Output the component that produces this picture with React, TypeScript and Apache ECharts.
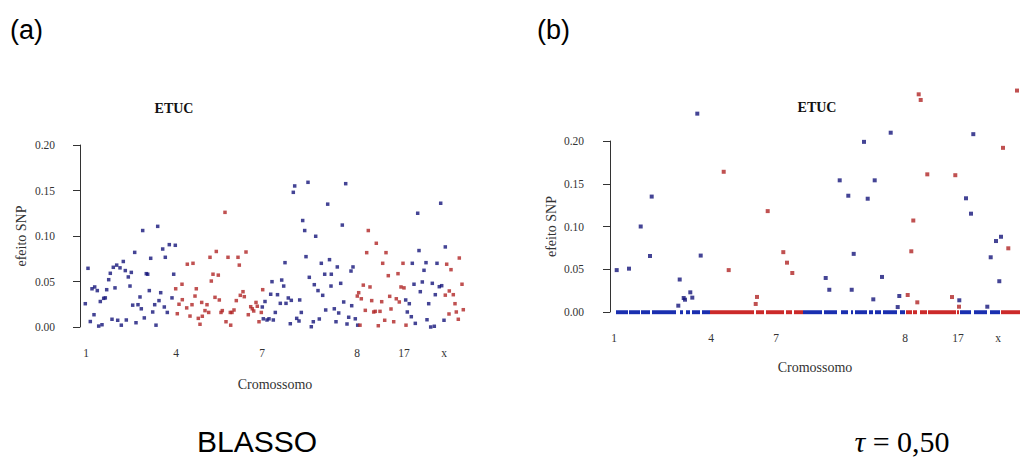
import React, { useEffect, useRef } from "react";
import * as echarts from "echarts";

// Fonts
const SERIF = '"Liberation Serif", "Times New Roman", serif';
const SANS = '"Liberation Sans", Arial, sans-serif';

// Chromosome labels and their positions along the SNP axis
const chromLabels = ["1", "4", "7", "8", "17", "x"];
const chromPosA = [6, 96, 182, 277, 324, 364];
const chromPosB = [4, 101, 166, 295, 348, 388];

// Panel (a) BLASSO: SNP effects, [position, effect]
const blassoBlue: number[][] = [
  [8, 0.0645], [5.3, 0.0256], [12, 0.042], [14.7, 0.044], [17.3, 0.04], [14, 0.0135], [10.3, 0.006],
  [18.7, 0.001], [22, 0.0025], [20.3, 0.028], [23.7, 0.0315], [25.3, 0.032], [26.7, 0.041], [28.7, 0.052],
  [30.3, 0.059], [33.3, 0.0656], [36.7, 0.068], [40, 0.065], [43.3, 0.072], [45.3, 0.062], [48.3, 0.055],
  [51.3, 0.06], [35, 0.043], [32, 0.0085], [37.7, 0.0074], [41.3, 0.002], [46.3, 0.0077], [50, 0.045],
  [52.7, 0.024], [56, 0.0047], [54.7, 0.082], [62.7, 0.106], [60, 0.033], [58, 0.0245], [61.3, 0.02],
  [64.3, 0.01], [66.3, 0.0586], [67.7, 0.058], [69.3, 0.04], [70.7, 0.0755], [72.7, 0.0165], [74.7, 0.0245],
  [76, 0.002], [77.7, 0.1106], [79, 0.029], [80.7, 0.0377], [82.7, 0.0857], [85.3, 0.0766], [84.3, 0.022],
  [87.3, 0.016], [89.3, 0.0905], [92, 0.032], [93.7, 0.058], [95.3, 0.0898],
  [185, 0.028], [182.3, 0.022], [183.3, 0.009], [187, 0.0077], [189, 0.009], [193.3, 0.0077], [195.3, 0.016],
  [192, 0.0498], [190.7, 0.036], [197.5, 0.0355], [201.7, 0.0516], [203.7, 0.045], [205, 0.0707],
  [200.3, 0.026], [206, 0.026], [208.3, 0.0319], [211.3, 0.0293], [216.7, 0.0095], [219, 0.0066],
  [210.3, 0.0036], [219.7, 0.0297], [221.3, 0.016], [213.3, 0.148], [214.7, 0.155], [228, 0.159],
  [247.7, 0.135], [222.7, 0.117], [224.7, 0.106], [235.7, 0.0997], [226, 0.0773], [229.3, 0.0546],
  [234.3, 0.0465], [238, 0.04], [242.7, 0.0348], [241.3, 0.07], [249.5, 0.074], [244.7, 0.058],
  [251.3, 0.058], [251, 0.045], [245.7, 0.0187], [233.3, 0.0058], [231.3, 0.0003], [239.3, 0.0088],
  [265.7, 0.1575], [262.3, 0.112], [257.3, 0.066], [273, 0.066], [271, 0.0615], [260.7, 0.048],
  [263.7, 0.0275], [271.7, 0.0234], [254.3, 0.02], [258.7, 0.0154], [268.7, 0.0107], [275.3, 0.009],
  [256, 0.0058], [267, 0.0033], [277.7, 0.002],
  [337.7, 0.125], [360.7, 0.136], [339, 0.084], [365.3, 0.088], [332.3, 0.07], [346, 0.0707], [357, 0.07],
  [344, 0.0623], [334, 0.047], [342.3, 0.0495], [352.3, 0.048], [359.3, 0.0443], [361.7, 0.0454],
  [325.7, 0.0297], [329.3, 0.0256], [340.3, 0.0388], [355.3, 0.0355], [348.7, 0.0256], [327.3, 0.0165],
  [331.3, 0.0113], [335.3, 0.004], [347, 0.008], [350.7, 0.0], [354.3, 0.0008], [364, 0.0074],
];

const blassoRed: number[][] = [
  [95.7, 0.042], [97.3, 0.0146], [99, 0.025], [102, 0.047], [102.3, 0.03], [107.3, 0.069], [113, 0.07],
  [106.7, 0.021], [110, 0.012], [112, 0.0245], [115, 0.034], [116.3, 0.042], [118.3, 0.0095],
  [145, 0.126], [136.3, 0.083], [130, 0.0766], [148, 0.0766], [158, 0.0766], [166, 0.0824], [159.3, 0.068],
  [133, 0.058], [138.3, 0.057], [131.3, 0.0505], [121.7, 0.027], [127, 0.0245], [125, 0.018], [128.7, 0.016],
  [122.3, 0.0118], [120, 0.003], [135, 0.0326], [139.3, 0.0297], [142.3, 0.018], [141, 0.016], [146, 0.0058],
  [150.7, 0.002], [150.3, 0.016], [152, 0.016], [154, 0.0187], [156.3, 0.029], [160.3, 0.0348],
  [163, 0.0388], [164.3, 0.0333], [168.3, 0.0135], [170.7, 0.0223], [172.3, 0.02], [173.7, 0.0176],
  [176, 0.027], [177.3, 0.0228], [179, 0.0058], [181.3, 0.016], [182.7, 0.041],
  [288.3, 0.106], [296.3, 0.092], [286.7, 0.0817], [306, 0.0817], [302.7, 0.07], [323, 0.07], [308.3, 0.0564],
  [318, 0.0586], [283.3, 0.046], [290, 0.044], [278.7, 0.0377], [277.3, 0.034], [281.3, 0.031], [291.7, 0.029],
  [301.7, 0.0278], [309.7, 0.0337], [316.3, 0.031], [319.3, 0.0275], [321, 0.044], [324, 0.043],
  [285.3, 0.0183], [293.7, 0.0165], [295.3, 0.0172], [300, 0.0172], [311, 0.0198], [304.7, 0.0074],
  [313.7, 0.0058], [298.3, 0.0014], [280, 0.002], [326, 0.002],
  [369.3, 0.0396], [365.3, 0.035], [373.3, 0.0355], [366.7, 0.069], [371, 0.063], [379.3, 0.0758],
  [382, 0.047], [375, 0.0256], [383.3, 0.019], [376.3, 0.0165], [369, 0.0143], [378.3, 0.0085],
];

// Panel (b) tau = 0,50: non-zero SNP effects, [position, effect]
const quantBlue: number[][] = [
  [6.7, 0.049], [19, 0.0507], [30.7, 0.1], [41.7, 0.135], [40, 0.0655], [69.7, 0.038], [68.3, 0.0074],
  [73.7, 0.0164], [75, 0.0144], [80.3, 0.023], [82.3, 0.0168], [87.3, 0.232], [90.7, 0.066],
  [215.7, 0.0398], [219.3, 0.026], [241.7, 0.026], [229.7, 0.154], [238.3, 0.136], [243.7, 0.068],
  [254, 0.199], [257.7, 0.1325], [264.7, 0.154], [272, 0.041], [263.3, 0.0148], [280.7, 0.2097],
  [289.3, 0.0187], [287.7, 0.0058],
  [349.3, 0.0137], [363.3, 0.208], [356, 0.133], [361, 0.115], [377.3, 0.0062], [380.7, 0.064],
  [386, 0.083], [391, 0.088], [389.3, 0.036],
];

const quantRed: number[][] = [
  [113.7, 0.164], [118.7, 0.049], [157.7, 0.118], [147, 0.0176], [145.7, 0.0094], [173.3, 0.07],
  [177, 0.0577], [182.3, 0.0456],
  [297.7, 0.0199], [307.3, 0.0113], [301.3, 0.071], [303.3, 0.107], [308.7, 0.2546], [310.7, 0.248],
  [317.3, 0.161], [345.3, 0.16], [342, 0.0175], [349, 0.0062],
  [398.3, 0.0745], [393, 0.192], [407, 0.259],
];

// Panel (b): runs of consecutive SNPs whose effect is shrunk to zero, [from, to]
const zeroRunsBlue: number[][] = [
  [6, 18], [19, 30], [31, 40], [42, 66], [70, 73], [76, 80], [82, 90], [92, 100],
  [193, 212], [214, 227], [231, 238], [241, 243], [245, 257], [259, 263], [265, 271], [273, 287], [290, 295],
  [350, 361], [364, 377], [380, 390],
];
const zeroRunsRed: number[][] = [
  [100, 144], [146, 154], [156, 174], [176, 182], [184, 193],
  [296, 302], [303, 307], [310, 317], [318, 346], [347, 349],
  [391, 410],
];

const PT_BLUE = "#15157a";
const PT_RED = "#b02626";
const BAND_BLUE = "#1a2fb0";
const BAND_RED = "#cc2a2a";
const INK = "#333";

function xAxisFor(gridIndex: number, max: number, positions: number[], nameGap: number) {
  return {
    type: "value",
    gridIndex,
    min: 0,
    max,
    axisLine: { show: false },
    axisTick: { show: false },
    splitLine: { show: false },
    axisLabel: {
      customValues: positions,
      formatter: (v: number) => {
        const i = positions.indexOf(v);
        return i >= 0 ? chromLabels[i] : "";
      },
      margin: 20,
      fontSize: 11.5,
      color: INK,
      fontFamily: SERIF,
    },
    name: "Cromossomo",
    nameLocation: "middle",
    nameGap,
    nameTextStyle: { fontSize: 14, color: INK, fontFamily: SERIF },
  };
}

function yAxisFor(gridIndex: number, offset: number, labelMargin: number, nameGap: number) {
  return {
    type: "value",
    gridIndex,
    min: 0,
    max: 0.2,
    interval: 0.05,
    offset,
    axisLine: { show: true, lineStyle: { color: INK, width: 1 } },
    axisTick: { show: true, length: 7, lineStyle: { color: INK, width: 1 } },
    splitLine: { show: false },
    axisLabel: {
      formatter: (v: number) => v.toFixed(2),
      margin: labelMargin,
      fontSize: 11.5,
      color: INK,
      fontFamily: SERIF,
    },
    name: "efeito SNP",
    nameLocation: "middle",
    nameRotate: 90,
    nameGap,
    nameTextStyle: { fontSize: 14, color: INK, fontFamily: SERIF },
  };
}

function scatter(idx: number, data: number[][], color: string, size: number) {
  return {
    type: "scatter",
    xAxisIndex: idx,
    yAxisIndex: idx,
    data,
    symbol: "rect",
    symbolSize: size,
    clip: false,
    itemStyle: { color },
    silent: true,
    z: 3,
  };
}

function zeroBand(runs: number[][], color: string) {
  return {
    type: "lines",
    coordinateSystem: "cartesian2d",
    xAxisIndex: 1,
    yAxisIndex: 1,
    data: runs.map(([from, to]) => ({ coords: [[from, 0], [to, 0]] })),
    lineStyle: { color, width: 4.5, opacity: 1, cap: "butt" },
    silent: true,
    z: 2,
  };
}

export default function App() {
  const ref = useRef<HTMLDivElement>(null);

  useEffect(() => {
    if (!ref.current) return;
    const chart = echarts.init(ref.current, undefined, { renderer: "svg" });
    chart.setOption({
      animation: false,
      backgroundColor: "#fff",
      textStyle: { fontFamily: SERIF },
      grid: [
        { left: 80, top: 145, width: 390, height: 182 },
        { left: 610, top: 141, width: 410, height: 171 },
      ],
      xAxis: [xAxisFor(0, 390, chromPosA, 50), xAxisFor(1, 410, chromPosB, 48)],
      yAxis: [yAxisFor(0, 10, 15, 42), yAxisFor(1, 13, 13, 39)],
      series: [
        scatter(0, blassoBlue, PT_BLUE, 3.5),
        scatter(0, blassoRed, PT_RED, 3.5),
        zeroBand(zeroRunsBlue, BAND_BLUE),
        zeroBand(zeroRunsRed, BAND_RED),
        scatter(1, quantBlue, PT_BLUE, 4),
        scatter(1, quantRed, PT_RED, 4),
      ],
      graphic: [
        { type: "text", x: 10, y: 30, style: { text: "(a)", font: `27px ${SANS}`, fill: "#000", verticalAlign: "middle" } },
        { type: "text", x: 537, y: 30, style: { text: "(b)", font: `27px ${SANS}`, fill: "#000", verticalAlign: "middle" } },
        { type: "text", x: 174, y: 108, style: { text: "ETUC", font: `bold 14px ${SERIF}`, fill: "#111", align: "center", verticalAlign: "middle" } },
        { type: "text", x: 817, y: 107, style: { text: "ETUC", font: `bold 14px ${SERIF}`, fill: "#111", align: "center", verticalAlign: "middle" } },
        { type: "text", x: 257, y: 441, style: { text: "BLASSO", font: `30px ${SANS}`, fill: "#000", align: "center", verticalAlign: "middle" } },
        {
          type: "text",
          x: 902,
          y: 441,
          style: {
            text: "{t|τ} = 0,50",
            font: `30px ${SERIF}`,
            fill: "#000",
            align: "center",
            verticalAlign: "middle",
            rich: { t: { fontStyle: "italic", fontSize: 30, fontFamily: SERIF } },
          },
        },
      ],
    });
    return () => chart.dispose();
  }, []);

  return (
    <div
      ref={ref}
      style={{ position: "fixed", left: 0, top: 0, width: 1020, height: 457, background: "#fff" }}
    />
  );
}
